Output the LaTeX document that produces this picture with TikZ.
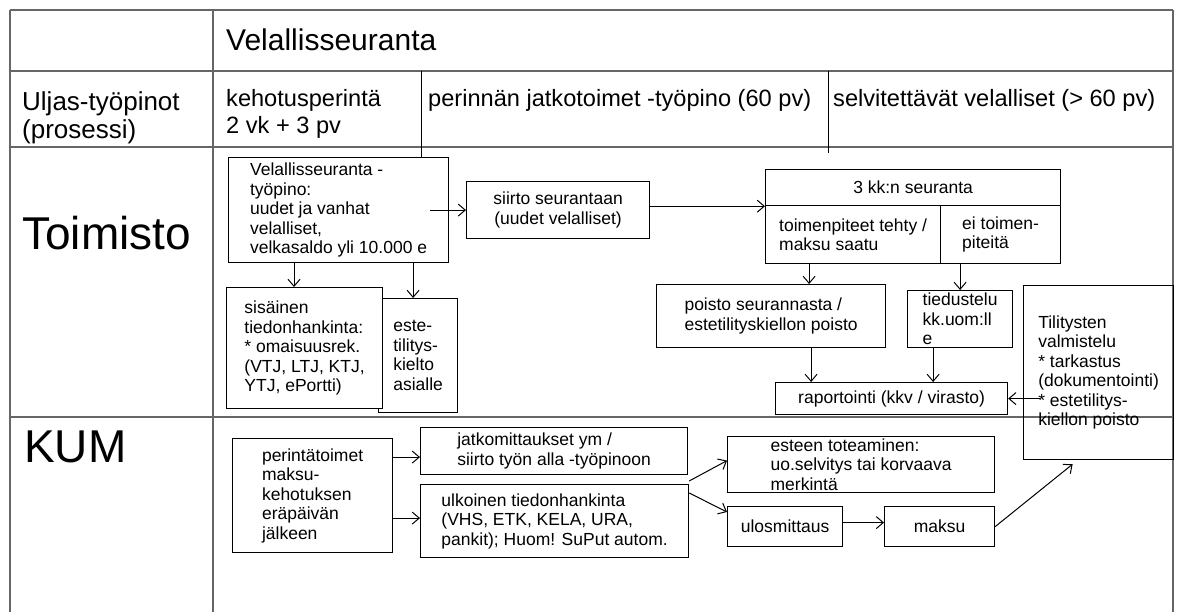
\documentclass[tikz,border=0pt]{standalone}
\usepackage{fontspec}
\setmainfont{Liberation Sans}
\usetikzlibrary{arrows.meta}

\newcommand{\boxfont}{\fontsize{17.5pt}{19.5pt}\selectfont}
\newcommand{\headfont}{\fontsize{23.6pt}{27pt}\selectfont}
\newcommand{\lanefont}{\fontsize{46pt}{50pt}\selectfont}

\begin{document}
\begin{tikzpicture}[x=1pt, y=-1pt,
    grid/.style={draw=black!60, line width=1.8pt},
    sep/.style={draw=black, line width=1pt},
    box/.style={draw, line width=1.2pt, fill=white, inner sep=0pt, align=left, anchor=north west, font=\boxfont},
    head/.style={inner sep=0pt, align=left, anchor=north west, font=\headfont},
    lane/.style={inner sep=0pt, anchor=west, font=\lanefont},
    arr/.style={-{Straight Barb[length=7pt,width=12pt]}, line width=1pt}
]
\useasboundingbox (0,0) rectangle (1179,612);

% table
\draw[grid] (10,10) -- (1173,10);
\draw[grid] (10,71) -- (1173,71);
\draw[grid] (10,147) -- (1173,147);
\draw[grid] (10,417) -- (1173,417);
\draw[grid] (10,10) -- (10,612);
\draw[grid] (213,10) -- (213,612);
\draw[grid] (1173,10) -- (1173,612);

\node[head, font=\fontsize{30pt}{34pt}\selectfont] (title) at (226,29) {Velallisseuranta};
\node[head, font=\fontsize{26pt}{28pt}\selectfont] (uljas) at (22,91) {Uljas-työpinot\\(prosessi)};
\node[head] (kehotus) at (226,89) {kehotusperintä\\2 vk + 3 pv};
\node[head] (jatkot) at (428,89) {perinnän jatkotoimet -työpino (60 pv)};
\node[head] (selvit) at (833,89) {selvitettävät velalliset (> 60 pv)};
\draw[sep] (421,71) -- (421,157);
\draw[sep] (828,71) -- (828,153);

\node[lane] (toimisto) at (22,233) {Toimisto};
\node[lane] (kum) at (24,447) {KUM};

% Toimisto
\node[box, minimum width=220pt, minimum height=105pt] (vt) at (228,157)
    {Velallisseuranta -\\työpino:\\uudet ja vanhat\\velalliset,\\velkasaldo yli 10.000 e};
\node[box, align=center, minimum width=183pt, minimum height=57pt] (siirto) at (466,181)
    {siirto seurantaan\\(uudet velalliset)};
\node[box, minimum width=79pt, minimum height=114pt] (este) at (378,298)
    {este-\\tilitys-\\kielto\\asialle};
\node[box, minimum width=156pt, minimum height=121pt] (sis) at (226,287)
    {sisäinen\\tiedonhankinta:\\* omaisuusrek.\\(VTJ, LTJ, KTJ,\\YTJ, ePortti)};
\node[box, align=center, minimum width=295pt, minimum height=36pt] (kk3) at (765,169) {3 kk:n seuranta};
\node[box, minimum width=175pt, minimum height=58pt] (kkdone) at (765,205) {toimenpiteet tehty /\\maksu saatu};
\node[box, minimum width=120pt, minimum height=58pt] (kknone) at (940,205) {ei toimen-\\piteitä};
\node[box, minimum width=229pt, minimum height=63pt] (poisto) at (656,284)
    {poisto seurannasta /\\estetilityskiellon poisto};
\node[box, minimum width=105pt, minimum height=57pt] (tied) at (907,290) {tiedustelu\\kk.uom:ll\\e};
\node[box, align=center, minimum width=232pt, minimum height=32pt] (rap) at (775,382) {raportointi (kkv / virasto)};
\node[box, fill=none, minimum width=150pt, minimum height=174pt] (tili) at (1023,285)
    {Tilitysten\\valmistelu\\* tarkastus\\(dokumentointi)\\* estetilitys-\\kiellon poisto};

\draw[arr] ([xshift=-19pt]vt.east) -- (siirto.west);
\draw[arr] (siirto.east |- kk3.south) -- (kk3.south west);
\draw[arr] ([xshift=66pt]vt.south west) -- ([xshift=66pt]vt.south west |- sis.north);
\draw[arr] ([xshift=-5pt]este.north |- vt.south) -- ([xshift=-5pt]este.north);
\draw[arr] ([xshift=-44pt]kkdone.south) -- ([xshift=-44pt]kkdone.south |- poisto.north);
\draw[arr] (tied.north |- kknone.south) -- (tied.north);
\draw[arr] ([xshift=40pt]poisto.south) -- ([xshift=40pt]poisto.south |- rap.north);
\draw[arr] ([xshift=-27pt]tied.south) -- ([xshift=-27pt]tied.south |- rap.north);
\draw[arr] ([xshift=17pt]tili.west |- rap.east) -- (rap.east);

% KUM
\node[box, minimum width=160pt, minimum height=114pt] (per) at (232,438)
    {perintätoimet\\maksu-\\kehotuksen\\eräpäivän\\jälkeen};
\node[box, minimum width=267pt, minimum height=47pt] (jatko) at (420,427)
    {jatkomittaukset ym /\\siirto työn alla -työpinoon};
\node[box, minimum width=268pt, minimum height=73pt] (ulk) at (420,484)
    {ulkoinen tiedonhankinta\\(VHS, ETK, KELA, URA,\\pankit); Huom! SuPut autom.};
\node[box, minimum width=267pt, minimum height=56pt] (esteen) at (727,436)
    {esteen toteaminen:\\uo.selvitys tai korvaava\\merkintä};
\node[box, align=center, minimum width=115pt, minimum height=40pt] (ulos) at (727,506) {ulosmittaus};
\node[box, align=center, minimum width=110pt, minimum height=40pt] (maksu) at (884,506) {maksu};

\draw[arr] ([yshift=-6pt]jatko.west -| per.east) -- ([yshift=-6pt]jatko.west);
\draw[arr] ([yshift=3pt]ulk.west -| per.east) -- ([yshift=3pt]ulk.west);
\draw[arr] ([yshift=3pt]ulk.north east) -- ([yshift=4pt]esteen.west);
\draw[arr] ([yshift=-9pt]ulk.north east) -- ([yshift=-6pt]ulos.north west);
\draw[arr] ([yshift=4pt]ulos.east) -- ([yshift=4pt]maksu.west);
\draw[arr] (maksu.east) -- ([xshift=-26pt,yshift=-4pt]tili.south);
\end{tikzpicture}
\end{document}
